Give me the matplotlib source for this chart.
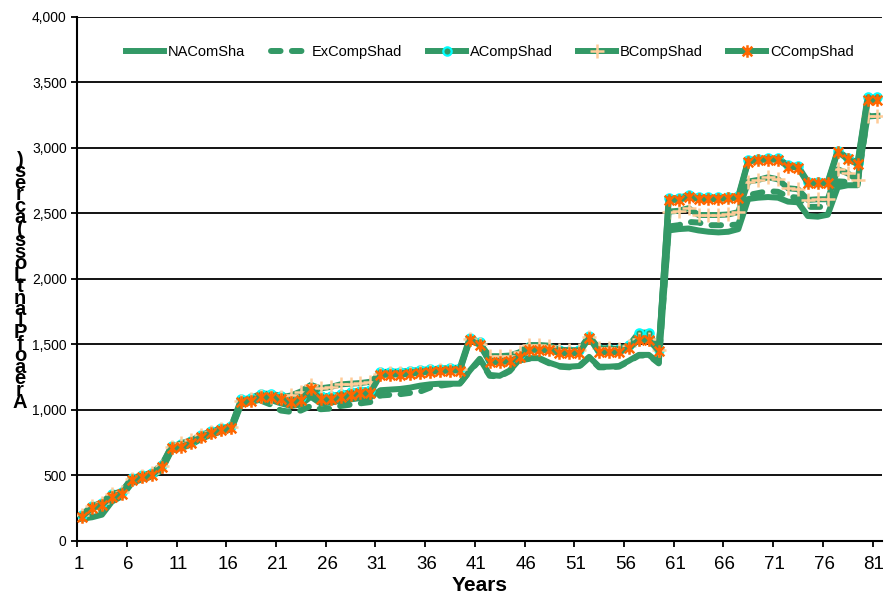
import numpy as np
import matplotlib
matplotlib.use('Agg')
import matplotlib.pyplot as plt
from matplotlib.path import Path

plt.rcParams['font.family'] = ['Liberation Sans', 'DejaVu Sans']

years = list(range(1, 82))
tick_labels = [str(y) for y in range(1, 82, 5)]

na_com = [170, 180, 200, 300, 340, 440, 470, 490, 540, 690, 710, 735, 780, 810, 835, 850, 1040,
          1060, 1080, 1075, 1050, 1030, 1040, 1100, 1050, 1055, 1070, 1080, 1090, 1095,
          1150, 1155, 1160, 1170, 1185, 1195, 1200, 1200, 1200,
          1300, 1390,
          1267, 1260, 1300, 1385, 1395, 1395, 1360, 1335, 1330, 1335, 1405, 1330, 1330, 1335, 1375, 1420, 1420, 1360,
          2370, 2380, 2385, 2370, 2360, 2355, 2360, 2380, 2610, 2620, 2625, 2620, 2590, 2585, 2480, 2475, 2490,
          2700, 2715, 2715, 3370, 3370]
ex_comp = [165, 190, 230, 310, 350, 450, 475, 495, 545, 700, 715, 740, 785, 815, 840, 855, 1050,
           1060, 1070, 1040, 995, 985, 995, 1030, 1005, 1010, 1030, 1040, 1050, 1060,
           1110, 1115, 1120, 1130, 1140, 1170, 1185, 1195, 1200,
           1295, 1380,
           1260, 1255, 1295, 1378, 1390, 1390, 1355, 1330, 1325, 1330, 1398, 1325, 1325, 1330, 1370, 1415, 1415, 1355,
           2400, 2410, 2435, 2430, 2410, 2410, 2410, 2415, 2640, 2655, 2670, 2665, 2628, 2620, 2550, 2550, 2550,
           2745, 2740, 2730, 3250, 3240]
a_comp = [200, 265, 290, 355, 375, 480, 500, 520, 578, 722, 738, 760, 810, 836, 860, 875, 1080,
          1090, 1125, 1122, 1108, 1088, 1098, 1172, 1105, 1105, 1118, 1135, 1148, 1152,
          1288, 1292, 1292, 1298, 1305, 1310, 1315, 1320, 1322,
          1552, 1515,
          1390, 1390, 1392, 1425, 1478, 1478, 1475, 1455, 1452, 1455, 1565, 1462, 1462, 1462, 1492, 1590, 1590, 1455,
          2615, 2618, 2640, 2622, 2622, 2622, 2628, 2632, 2905, 2918, 2920, 2920, 2868, 2862, 2742, 2742, 2742,
          2980, 2922, 2888, 3385, 3385]
b_comp = [195, 265, 290, 360, 375, 475, 495, 515, 570, 720, 745, 770, 805, 830, 855, 870, 1068,
          1080, 1105, 1100, 1095, 1110, 1140, 1190, 1165, 1175, 1195, 1200, 1205, 1215,
          1275, 1278, 1280, 1285, 1292, 1298, 1302, 1308, 1310,
          1540, 1505,
          1410, 1410, 1415, 1440, 1495, 1495, 1490, 1460, 1455, 1455, 1555, 1470, 1470, 1465, 1490, 1545, 1545, 1460,
          2514, 2520, 2540, 2488, 2488, 2488, 2492, 2510, 2743, 2756, 2776, 2760, 2692, 2685, 2603, 2608, 2608,
          2837, 2806, 2756, 3240, 3245]
c_comp = [185, 250, 275, 338, 360, 466, 486, 504, 562, 707, 720, 745, 796, 821, 847, 860, 1063,
          1071, 1102, 1097, 1082, 1064, 1076, 1158, 1082, 1082, 1097, 1115, 1127, 1132,
          1265, 1270, 1270, 1275, 1285, 1290, 1295, 1300, 1300,
          1534, 1496,
          1365, 1365, 1370, 1405, 1458, 1458, 1455, 1435, 1432, 1435, 1550, 1440, 1440, 1440, 1471, 1534, 1534, 1450,
          2603, 2603, 2628, 2610, 2610, 2610, 2615, 2620, 2896, 2908, 2910, 2910, 2858, 2850, 2730, 2730, 2730,
          2972, 2913, 2878, 3366, 3366]

green = '#339966'
lw = 4.3

# excel style star marker: x with a vertical bar
star = Path([(-1, -1), (1, 1), (-1, 1), (1, -1), (0, -1.3), (0, 1.3)],
            [Path.MOVETO, Path.LINETO] * 3)

fig = plt.figure(figsize=(8.86, 6.05), dpi=100)
ax = fig.add_axes([0.087, 0.106, 0.909, 0.866])

ax.plot(years, na_com, color=green, lw=lw, solid_joinstyle='round', label='NAComSha', zorder=3)
ax.plot(years, ex_comp, color=green, lw=lw, ls=(0, (1.6, 1.9)), dash_capstyle='round',
        label='ExCompShad', zorder=3)
ax.plot(years, a_comp, color=green, lw=lw, marker='o', ms=6, mfc=green, mec='#00FFFF', mew=1.6,
        label='ACompShad', zorder=4)
ax.plot(years, b_comp, color=green, lw=lw, marker='+', ms=10, mec='#FFCC99', mew=1.8,
        label='BCompShad', zorder=5)
ax.plot(years, c_comp, color=green, lw=lw, marker=star, ms=9, mfc='none', mec='#FF6600', mew=1.8,
        label='CCompShad', zorder=6)

ax.set_xlim(0.5, 81.5)
ax.set_ylim(0, 4000)
ax.set_yticks(np.arange(0, 4001, 500))
ax.set_yticklabels([f'{v:,}' for v in range(0, 4001, 500)], fontsize=10)
ax.yaxis.grid(True, color='black', lw=1.3)
ax.set_axisbelow(True)

ax.set_xticks(np.arange(0.5, 82, 5))
ax.set_xticklabels([])
ax.set_xticks(np.arange(1, 82, 5) - 0.35, tick_labels, minor=True, fontsize=13.5)
ax.tick_params(axis='x', which='minor', length=0, pad=11)
ax.tick_params(axis='both', which='major', direction='out', length=4, width=1.3, color='black')

for s in ['top', 'right']:
    ax.spines[s].set_visible(False)
for s in ['left', 'bottom']:
    ax.spines[s].set_linewidth(1.5)

ax.set_xlabel('Years', fontsize=15, fontweight='bold', labelpad=2)

# broken stacked y label as in the source
ylab = [c for c in 'Area of Plant Loss (acres)' if c != ' ']
ys = np.linspace(402, 160, len(ylab))
for ch, yp in zip(ylab, ys):
    fig.text(20 / 886, 1 - yp / 605, ch, fontsize=14.5, fontweight='bold', ha='center', va='center')

fig.legend(loc='center', bbox_to_anchor=(0.553, 0.914), ncol=5, frameon=False, fontsize=10.5,
           handlelength=2.6, handletextpad=0.25, columnspacing=1.75)

fig.savefig('out.png', dpi=100)
